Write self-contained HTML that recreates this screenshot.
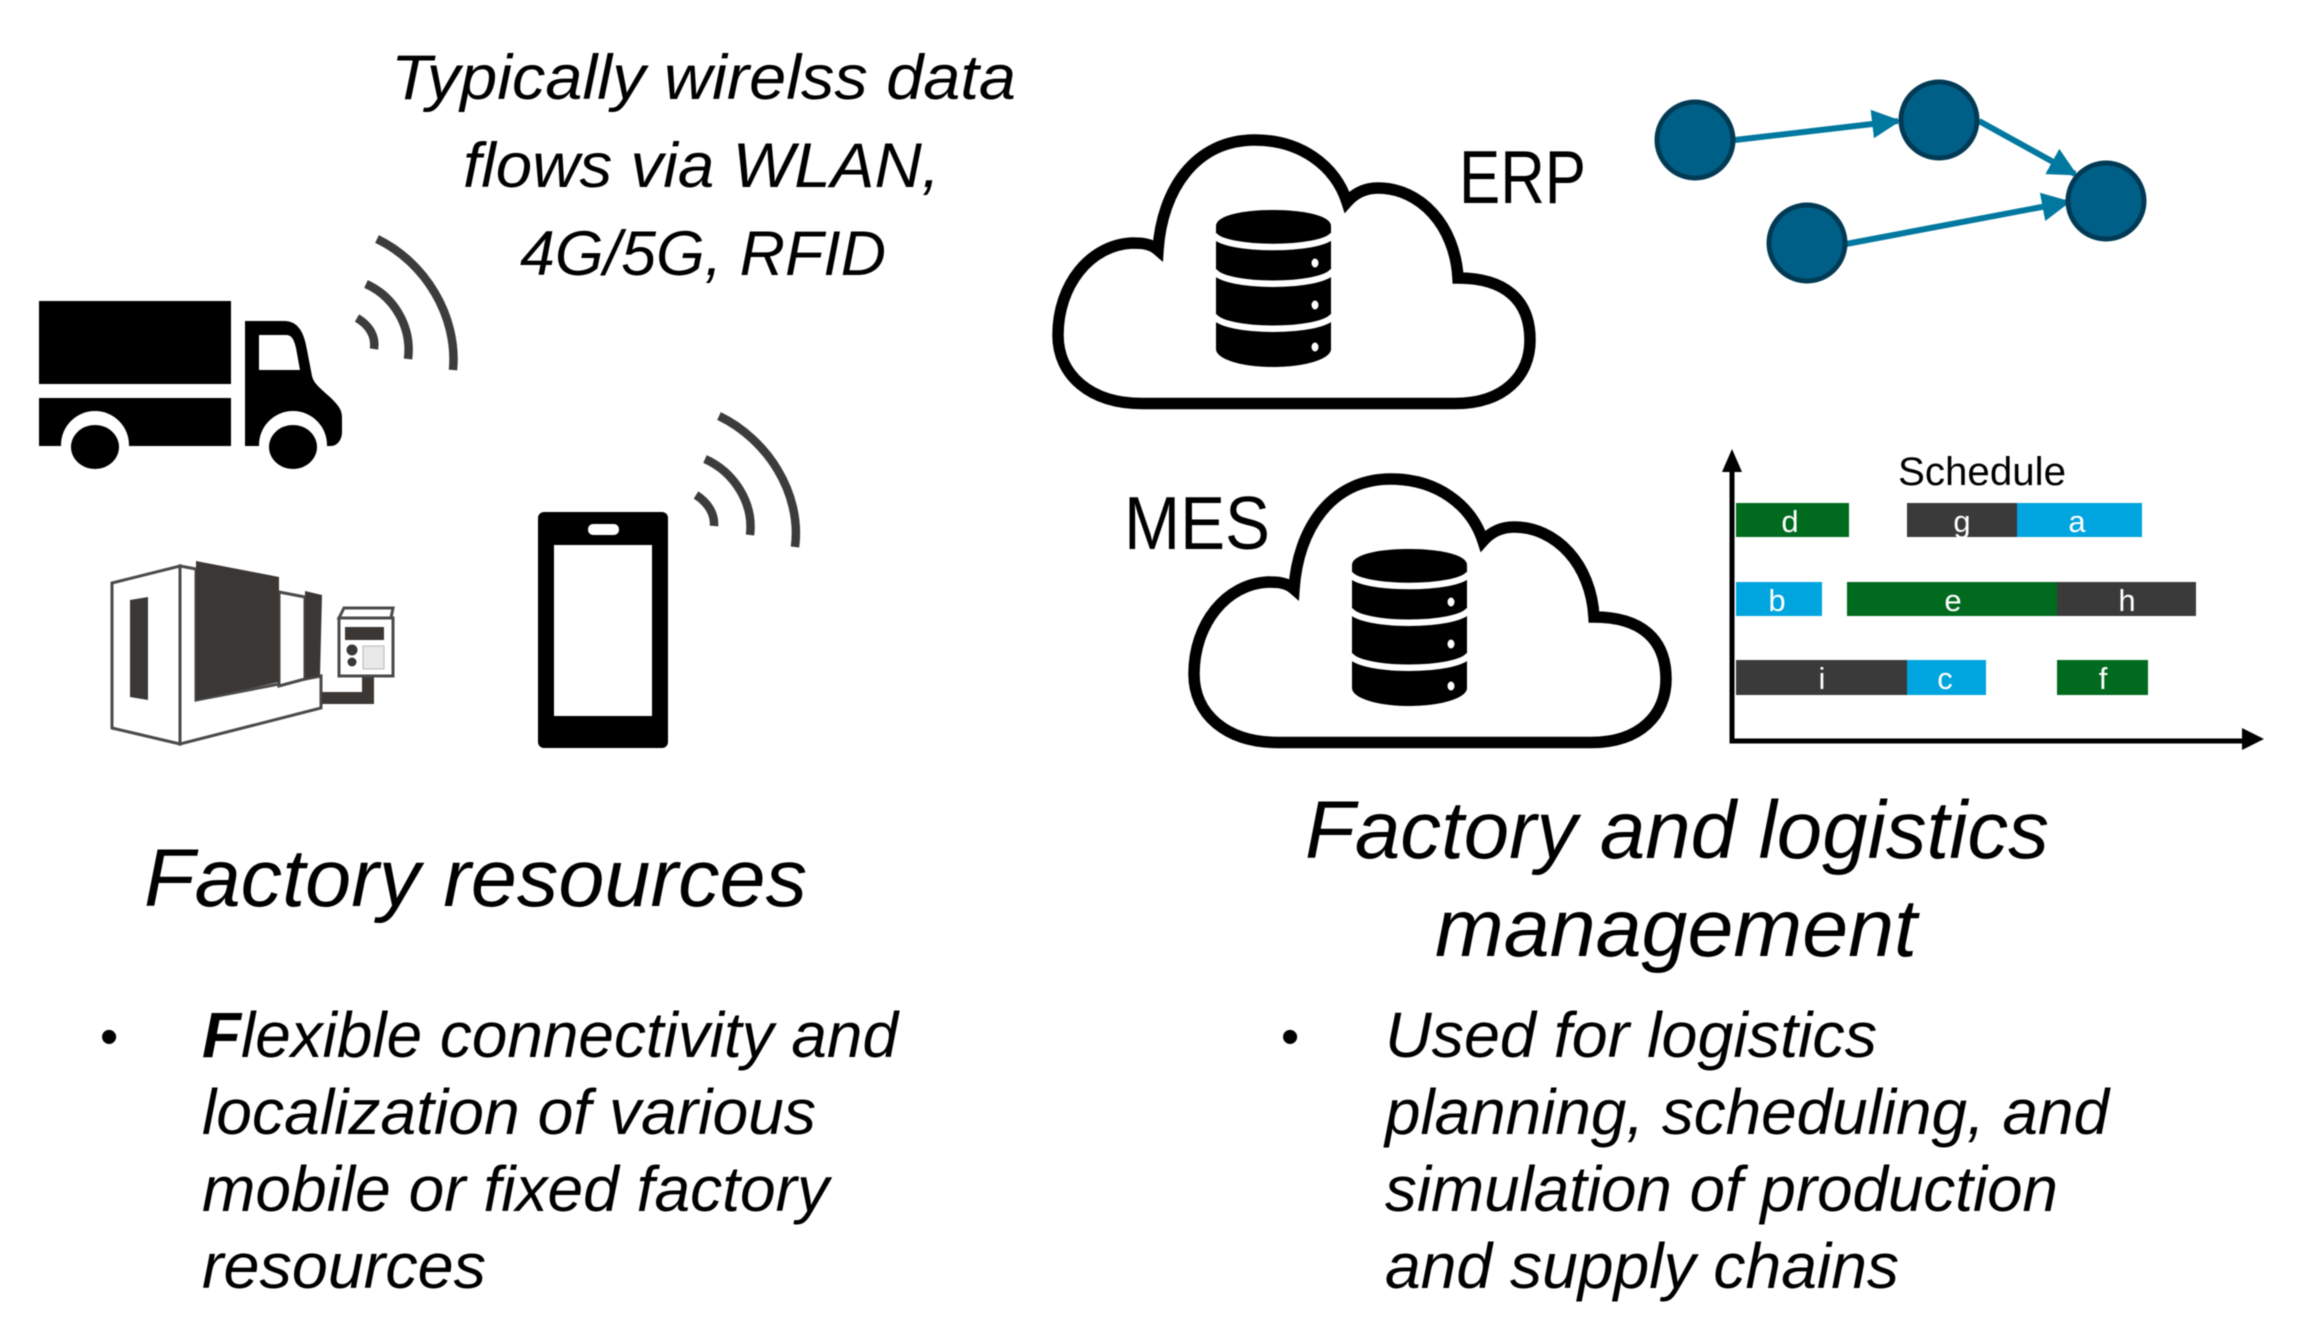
<!DOCTYPE html>
<html><head><meta charset="utf-8"><style>
html,body{margin:0;padding:0;background:#fff}
svg{display:block;filter:blur(.6px)}
text{font-family:"Liberation Sans",sans-serif;fill:#000}
.b{font-size:64px;font-style:italic}
.h{font-size:82px;font-style:italic}
.t{font-size:63px;font-style:italic}
.g{font-size:31px;fill:#fff;text-anchor:middle}
</style></head><body>
<svg width="2300" height="1317" viewBox="0 0 2300 1317" xmlns="http://www.w3.org/2000/svg">
<rect width="2300" height="1317" fill="#fff"/>
<defs>
<marker id="ah" viewBox="0 0 10 10" refX="9" refY="5" markerWidth="4.8" markerHeight="4.8" orient="auto"><path d="M0 0L10 5L0 10Z" fill="#00789f"/></marker>
</defs>

<!-- heading text -->
<text class="t" x="391" y="99" textLength="625" lengthAdjust="spacingAndGlyphs">Typically wirelss data</text>
<text class="t" x="463" y="187" textLength="477" lengthAdjust="spacingAndGlyphs">flows via WLAN,</text>
<text class="t" x="520" y="275" textLength="366" lengthAdjust="spacingAndGlyphs">4G/5G, RFID</text>

<!-- truck -->
<g fill="#000">
<rect x="39" y="301" width="192" height="83"/>
<rect x="39" y="398" width="192" height="48"/>
<path d="M245 321H284C298 321 304 332 307 350L312 376C314 384 320 388 331 398C339 406 342 410 342 418V432C342 440 337 446 331 446H245Z"/>
</g>
<path d="M259 335H286C292 335 294 340 296 348L300 370H259Z" fill="#fff"/>
<g fill="#fff"><circle cx="95" cy="445" r="34"/><circle cx="293" cy="445" r="34"/></g>
<rect x="20" y="446" width="320" height="30" fill="#fff"/>
<g fill="#000"><ellipse cx="95" cy="447" rx="24" ry="22"/><ellipse cx="293" cy="447" rx="24" ry="22"/></g>

<!-- wifi arcs -->
<g fill="none" stroke="#3c3c3c" stroke-width="8.5">
<path d="M377 239C425 262 458 316 453 370"/>
<path d="M366 284C395 297 412 328 408 359"/>
<path d="M357 318C369 325 376 336 374 349"/>
<path d="M719 416C767 439 802 493 795 547"/>
<path d="M705 459C734 472 754 503 750 535"/>
<path d="M696 495C707 502 715 513 714 526"/>
</g>

<!-- machine -->
<g transform="translate(0,-4)">
<g stroke="#4a4a4a" stroke-width="3" fill="#fff">
<path d="M112 587L180 570V748L112 732Z"/>
<path d="M180 570L196 573V704L321 680V712L180 748Z"/>
<path d="M279 596L305 601V683L279 690Z"/>
</g>
<g fill="#3b3735">
<path d="M196 565L279 581V686L196 704Z"/>
<path d="M130 604L148 601V704L130 701Z"/>
<path d="M305 595L322 599L320 680L305 683Z"/>
<path d="M322 696H362V679H374V708H322Z"/>
</g>
<g>
<path d="M344 612H393L391 622H339Z" fill="#fff" stroke="#4a4a4a" stroke-width="3"/>
<rect x="339" y="622" width="54" height="58" fill="#fff" stroke="#4a4a4a" stroke-width="3"/>
<rect x="345" y="631" width="39" height="13" fill="#3b3735"/>
<rect x="363" y="650" width="21" height="23" fill="#e8e8e8" stroke="#bbb"/>
<circle cx="352" cy="654" r="5.5" fill="#3b3735"/>
<circle cx="352" cy="666" r="4.5" fill="#3b3735"/>
</g>
</g>

<!-- phone -->
<rect x="538" y="512" width="130" height="236" rx="6" fill="#000"/>
<rect x="554" y="545" width="98" height="171" fill="#fff"/>
<rect x="588" y="524" width="31" height="11" rx="5" fill="#fff"/>

<!-- clouds -->
<g id="cl">
<path d="M1142 403.500H1455C1505 403.500 1530 375 1530 340C1530 300 1505 278 1458 278C1455 225 1420 188 1378 188C1365 188 1355 193 1347 202C1335 165 1300 140 1255 140C1195 140 1162 190 1158 250C1150 243 1140 243 1132 243C1090 245 1058 285 1058 335C1058 375 1090 403.500 1142 403.500Z" fill="#fff" stroke="#000" stroke-width="11.500"/>
<path d="M1216 226C1216 216 1241 210 1273 210C1305 210 1331 216 1331 226V349C1331 359 1305 367 1273 367C1241 367 1216 359 1216 349Z" fill="#000"/>
<g fill="none" stroke="#fff" stroke-width="6.500">
<path d="M1214 235C1225 251 1321 251 1333 235"/>
<path d="M1214 271C1225 288 1321 288 1333 271"/>
<path d="M1214 316C1225 333 1321 333 1333 316"/>
</g>
<g fill="#fff"><ellipse cx="1315" cy="263" rx="3.500" ry="4.500"/><ellipse cx="1315" cy="305" rx="3.500" ry="4.500"/><ellipse cx="1315" cy="347" rx="3.500" ry="4.500"/></g>
</g>
<use href="#cl" x="136" y="339"/>
<text x="1459" y="203" font-size="75" textLength="127" lengthAdjust="spacingAndGlyphs">ERP</text>
<text x="1124" y="549" font-size="75" textLength="146" lengthAdjust="spacingAndGlyphs">MES</text>

<!-- network -->
<g stroke="#00789f" stroke-width="6" fill="none">
<path d="M1735 140L1898 121" marker-end="url(#ah)"/>
<path d="M1979 121L2075 174" marker-end="url(#ah)"/>
<path d="M1846 244L2068 202" marker-end="url(#ah)"/>
</g>
<g fill="#005f87" stroke="#013a55" stroke-width="5">
<circle cx="1695" cy="140" r="38"/>
<circle cx="1939" cy="120" r="38"/>
<circle cx="1807" cy="243" r="38"/>
<circle cx="2106" cy="201" r="38"/>
</g>

<!-- gantt -->
<g fill="#006b1e">
<rect x="1736" y="503" width="113" height="34"/>
<rect x="1847" y="582" width="210" height="34"/>
<rect x="2057" y="660" width="91" height="35"/>
</g>
<g fill="#3a3a3a">
<rect x="1907" y="503" width="110" height="34"/>
<rect x="2057" y="582" width="139" height="34"/>
<rect x="1736" y="660" width="171" height="35"/>
</g>
<g fill="#00a4de">
<rect x="2017" y="503" width="125" height="34"/>
<rect x="1736" y="582" width="86" height="34"/>
<rect x="1907" y="660" width="79" height="35"/>
</g>
<g stroke="#000" stroke-width="5" fill="none">
<path d="M1732 466V741H2244"/>
</g>
<path d="M1732 449L1742 472H1722Z" fill="#000"/>
<path d="M2264 739L2242 728V750Z" fill="#000"/>
<text x="1898" y="485" font-size="40" textLength="168" lengthAdjust="spacingAndGlyphs">Schedule</text>
<text class="g" x="1790" y="532">d</text>
<text class="g" x="1962" y="532">g</text>
<text class="g" x="2077" y="532">a</text>
<text class="g" x="1777" y="611">b</text>
<text class="g" x="1953" y="611">e</text>
<text class="g" x="2127" y="611">h</text>
<text class="g" x="1822" y="689">i</text>
<text class="g" x="1945" y="689">c</text>
<text class="g" x="2103" y="689">f</text>

<!-- headings -->
<text class="h" x="144" y="906" textLength="663" lengthAdjust="spacingAndGlyphs">Factory resources</text>
<text class="h" x="1305" y="858" textLength="744" lengthAdjust="spacingAndGlyphs">Factory and logistics</text>
<text class="h" x="1435" y="956" textLength="482" lengthAdjust="spacingAndGlyphs">management</text>

<!-- bullets left -->
<text x="100" y="1054" font-size="52">•</text>
<text class="b" x="202" y="1057" textLength="696" lengthAdjust="spacingAndGlyphs"><tspan font-weight="bold">F</tspan>lexible connectivity and</text>
<text class="b" x="202" y="1134" textLength="614" lengthAdjust="spacingAndGlyphs">localization of various</text>
<text class="b" x="202" y="1211" textLength="627" lengthAdjust="spacingAndGlyphs">mobile or fixed factory</text>
<text class="b" x="202" y="1288" textLength="284" lengthAdjust="spacingAndGlyphs">resources</text>

<!-- bullets right -->
<text x="1281" y="1054" font-size="52">•</text>
<text class="b" x="1385" y="1057" textLength="492" lengthAdjust="spacingAndGlyphs">Used for logistics</text>
<text class="b" x="1385" y="1134" textLength="724" lengthAdjust="spacingAndGlyphs">planning, scheduling, and</text>
<text class="b" x="1385" y="1211" textLength="673" lengthAdjust="spacingAndGlyphs">simulation of production</text>
<text class="b" x="1385" y="1288" textLength="514" lengthAdjust="spacingAndGlyphs">and supply chains</text>
</svg>
</body></html>
